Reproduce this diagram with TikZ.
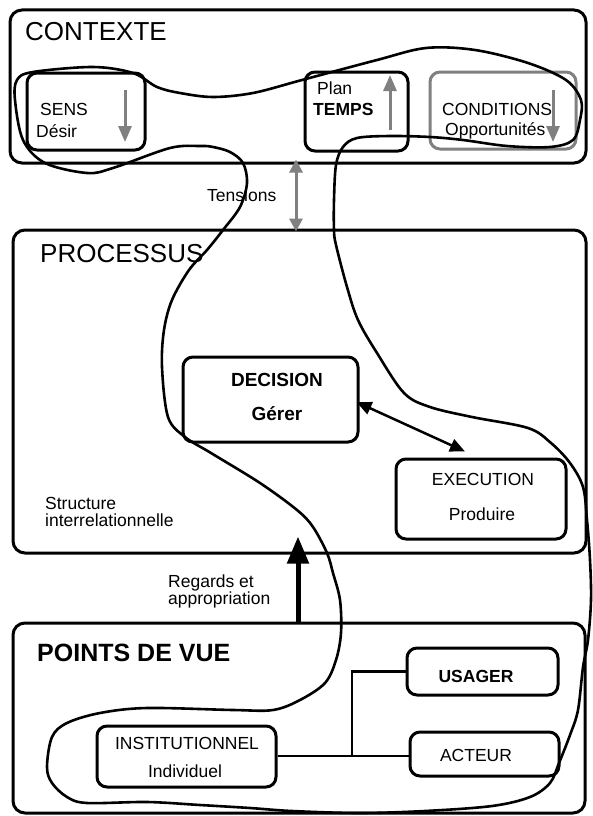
\documentclass[tikz,border=0pt]{standalone}
\usepackage{fontspec}
\setmainfont{Liberation Sans}
\usetikzlibrary{arrows.meta}

\begin{document}
\begin{tikzpicture}[x=1pt,y=-1pt,
    cadre/.style={draw,line width=3pt,rounded corners=12pt,inner sep=0pt},
    boite/.style={draw,line width=3pt,rounded corners=10pt,inner sep=0pt},
    titre/.style={font=\fontsize{26}{26}\selectfont,inner sep=0pt},
    texte/.style={font=\fontsize{17.5}{17.5}\selectfont,inner sep=0pt},
    gras/.style={font=\fontsize{17.5}{17.5}\selectfont\bfseries,inner sep=0pt},
    grise/.style={gray,line width=3pt,-{Triangle[length=16pt,width=13pt]}},
    lien/.style={line width=2.5pt},
    contour/.style={line width=2.6pt,line join=round}]
  \useasboundingbox (0,0) rectangle (592,816);

  % CONTEXTE
  \node[cadre,minimum width=576pt,minimum height=153pt] (contexte) at (298,86.5) {};
  \node[titre,anchor=base west] (tcontexte) at (25,41) {CONTEXTE};
  \node[boite,minimum width=118pt,minimum height=77pt] (sens) at (86,111.5) {};
  \node[texte,anchor=base west] (tsens) at (40,115) {SENS};
  \node[texte,anchor=base west] (tdesir) at (36,137) {Désir};
  \draw[grise] (125,90) -- (125,142);
  \node[boite,minimum width=103pt,minimum height=79pt] (temps) at (356.5,111.5) {};
  \node[texte,anchor=base west] (tplan) at (317,94) {Plan};
  \node[gras,anchor=base west] (ttemps) at (313,115) {TEMPS};
  \draw[grise] (390,130) -- (390,75);
  \node[boite,draw=gray,minimum width=146pt,minimum height=77pt] (conditions) at (503,110.5) {};
  \node[texte,anchor=base west] (tconditions) at (442,115) {CONDITIONS};
  \node[texte,anchor=base west] (topport) at (445,135) {Opportunités};
  \draw[grise] (553,90) -- (553,142);

  % PROCESSUS
  \node[cadre,minimum width=573pt,minimum height=323pt] (processus) at (299.5,391.5) {};
  \node[titre,anchor=base west] (tprocessus) at (40,262) {PROCESSUS};
  \node[boite,minimum width=175pt,minimum height=85pt] (decision) at (270.5,399.5) {};
  \node[gras,font=\fontsize{19}{19}\selectfont\bfseries,anchor=base] (tdecision) at (277,386) {DECISION};
  \node[gras,font=\fontsize{19}{19}\selectfont\bfseries,anchor=base] (tgerer) at (277,420) {Gérer};
  \node[boite,minimum width=170pt,minimum height=80pt] (execution) at (481,499) {};
  \node[texte,anchor=base] (texecution) at (483,485) {EXECUTION};
  \node[texte,anchor=base] (tproduire) at (482,520) {Produire};
  \node[texte,anchor=base west] (tstructure) at (45,509) {Structure};
  \node[texte,anchor=base west] (tinterrel) at (45,526) {interrelationnelle};
  \draw[lien,{Triangle[length=15pt,width=13pt]}-{Triangle[length=15pt,width=13pt]}]
    ([xshift=-3pt,yshift=-2.5pt]decision.east) -- ([xshift=-16pt,yshift=6pt]execution.north);

  % POINTS DE VUE
  \node[cadre,minimum width=572pt,minimum height=190pt] (points) at (299,718) {};
  \node[titre,font=\fontsize{25}{25}\selectfont\bfseries,anchor=base west] (tpoints) at (37,661) {POINTS DE VUE};
  \node[boite,minimum width=151pt,minimum height=47pt] (usager) at (482.5,671.5) {};
  \node[gras,anchor=base] (tusager) at (476,682) {USAGER};
  \node[boite,minimum width=149pt,minimum height=44pt] (acteur) at (484.5,754) {};
  \node[texte,anchor=base] (tacteur) at (476,761) {ACTEUR};
  \node[boite,minimum width=179pt,minimum height=61pt] (inst) at (186.5,756.5) {};
  \node[texte,anchor=base] (tinst) at (187,749) {INSTITUTIONNEL};
  \node[texte,anchor=base] (tindiv) at (185,777) {Individuel};
  \coordinate (fourche) at (352,756);
  \draw[lien] (inst.east |- fourche) -- (fourche) |- (usager.west);
  \draw[lien] (fourche) -- (fourche -| acteur.west);

  % liaisons entre cadres
  \draw[gray,line width=3pt,{Triangle[length=13pt,width=13pt]}-{Triangle[length=13pt,width=13pt]}]
    ([xshift=-2pt,yshift=5pt]contexte.south) -- ([xshift=-3.5pt,yshift=-3pt]processus.north);
  \node[texte,anchor=base west] (ttensions) at (207,201) {Tensions};
  \draw[line width=5pt,-{Triangle[length=27pt,width=21pt]}]
    ([xshift=-1pt]points.north) -- ([xshift=-1.5pt,yshift=18pt]processus.south);
  \node[texte,anchor=base west] (tregards) at (168,587) {Regards et};
  \node[texte,anchor=base west] (tappro) at (168,604) {appropriation};

  % trace a main levee
  \draw[contour] plot[smooth cycle,tension=0.55] coordinates {
    (17,80) (33,72) (93,67) (133,73) (157,87) (180,93) (213,97) (253,93)
    (302,80) (377,60) (426,48) (475,50) (528,63) (566,80) (581,100) (580,120)
    (573,140) (550,147) (507,146) (463,140) (430,137) (390,136) (357,138)
    (343,147) (336,165) (334,200) (334,230) (336,245) (347,287) (358,320)
    (377,353) (404,393) (430,407) (472,417) (528,428) (551,443) (570,463)
    (583,487) (587,520) (590,560) (591,600) (588,640) (583,667) (578,710)
    (570,735) (559,763) (550,783) (530,797) (492,806) (425,811) (359,813)
    (292,811) (250,808) (200,805) (147,802) (87,803) (67,797) (52,783)
    (47,767) (52,737) (67,723) (100,713) (147,708) (233,710) (273,710)
    (300,700) (325,683) (336,660) (341,633) (340,600) (333,573) (327,553)
    (313,527) (297,510) (260,483) (211,453) (185,437) (168,417) (162,367)
    (164,330) (172,300) (189,270) (207,250) (223,230) (240,207) (247,183)
    (243,163) (230,152) (213,147) (200,146) (170,148) (113,168) (87,173)
    (45,163) (23,140) (15,100)};
\end{tikzpicture}
\end{document}
